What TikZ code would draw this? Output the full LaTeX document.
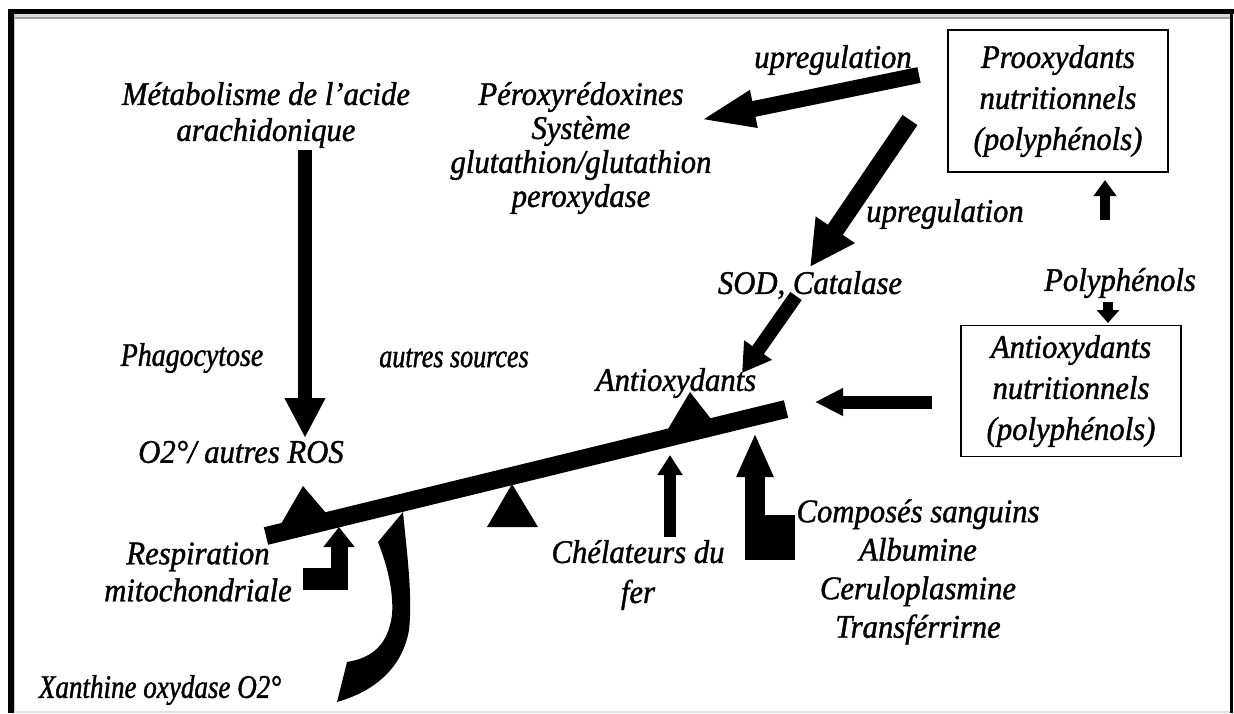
\documentclass[tikz,border=0pt]{standalone}
\usepackage{fontspec}
\setmainfont{Liberation Serif}[ItalicFeatures={FakeBold=1.2,FakeStretch=0.93}]
\newfontfamily\condphago{Liberation Serif}[ItalicFeatures={FakeBold=1.2,FakeStretch=0.845}]
\newfontfamily\condautres{Liberation Serif}[ItalicFeatures={FakeBold=1.2,FakeStretch=0.79}]
\newfontfamily\condxan{Liberation Serif}[ItalicFeatures={FakeBold=1.2,FakeStretch=0.82}]
\usetikzlibrary{arrows.meta}
\begin{document}
\begin{tikzpicture}[x=1pt,y=-1pt,
  lbl/.style={font=\fontsize{33}{35}\selectfont\itshape, align=center, inner sep=0pt},
  boxnode/.style={draw, line width=1.8pt, minimum width=220pt, minimum height=142pt, align=center, font=\fontsize{33}{41}\selectfont\itshape, inner sep=0pt},
  fatarrow/.style n args={3}{line width=#1pt, -{Triangle[length=#2pt 0 0,width=#3pt 0 0]}}
]
\useasboundingbox (0,0) rectangle (1234,713);
% frame
\fill (8,9) rectangle (1234,13.5);
\fill (8,9) rectangle (13.5,713);
\fill (1230,13) rectangle (1233,713);
\fill[gray!30] (13.5,13.5) rectangle (1230,16.5);
\fill[gray!75] (13.5,16.5) rectangle (1230,18.5);
\fill[gray!50] (13.5,13.5) rectangle (15,713);
\fill[gray!25] (13.5,710.5) rectangle (1230,713);

% text nodes
\node[lbl, font=\fontsize{33}{36}\selectfont\itshape] (meta) at (266,115) {Métabolisme de l’acide\\arachidonique};
\node[lbl, font=\fontsize{33}{34}\selectfont\itshape] (perox) at (581,148) {Péroxyrédoxines\\Système\\glutathion/glutathion\\peroxydase};
\node[lbl] (up1) at (833,60) {upregulation};
\node[boxnode] (pro) at (1058,101) {Prooxydants\\nutritionnels\\(polyphénols)};
\node[boxnode, minimum height=131pt] (anti) at (1071,391) {Antioxydants\\nutritionnels\\(polyphénols)};
\node[lbl] (up2) at (945,214) {upregulation};
\node[lbl] (poly) at (1120,283) {Polyphénols};
\node[lbl] (sod) at (810,285) {SOD, Catalase};
\node[lbl, font=\fontsize{33}{35}\condphago\itshape] (phago) at (192,358) {Phagocytose};
\node[lbl, font=\fontsize{33}{35}\condautres\itshape] (autres) at (454,358) {autres sources};
\node[lbl] (antiox) at (676,383) {Antioxydants};
\node[lbl] (ros) at (241,452) {O2°/ autres ROS};
\node[lbl, font=\fontsize{33}{37}\selectfont\itshape] (resp) at (198,572) {Respiration\\mitochondriale};
\node[lbl, font=\fontsize{33}{40}\selectfont\itshape] (chel) at (638,575) {Chélateurs du\\fer};
\node[lbl, font=\fontsize{33}{38.5}\selectfont\itshape] (comp) at (918,572) {Composés sanguins\\Albumine\\Ceruloplasmine\\Transférrirne};
\node[lbl, font=\fontsize{33}{35}\condxan\itshape] (xan) at (160,690) {Xanthine oxydase O2°};

% coordinates
\coordinate (beamL) at (266,536);
\coordinate (beamR) at (786,409);
\coordinate (a1s) at (305,150);
\coordinate (a1e) at (305,438);
\coordinate (u1s) at (919,75);
\coordinate (u1e) at (700,120);
\coordinate (u2s) at (910,120);
\coordinate (u2e) at (810,267);
\coordinate (s3s) at (796,296);
\coordinate (s3e) at (742,373);
\coordinate (b4s) at (932,402);
\coordinate (b4e) at (815,402);
\coordinate (chs) at (670,537);
\coordinate (che) at (670,455);
\coordinate (cos) at (755,560);
\coordinate (coe) at (755,433);
\coordinate (rss) at (339,590);
\coordinate (rse) at (339,527);
\coordinate (pus) at (1105,220);
\coordinate (pue) at (1105,180);
\coordinate (pds) at (1108,302);
\coordinate (pde) at (1108,323);

% beam
\draw[line width=18pt] (beamL) -- (beamR);
% triangles
\fill (303,486) -- (281,524) -- (326,513) -- cycle;
\fill (512,484) -- (487,527) -- (538,527) -- cycle;
\fill (690,392) -- (668,429) -- (711,419) -- cycle;

% arrows
\draw[fatarrow={14}{40}{38}] (a1s) -- (a1e);
\draw[fatarrow={16}{55}{34}] (u1s) -- (u1e);
\draw[fatarrow={18}{45}{44}] (u2s) -- (u2e);
\draw[fatarrow={14}{28}{32}] (s3s) -- (s3e);
\draw[fatarrow={13}{28}{26}] (b4s) -- (b4e);
\draw[fatarrow={12}{20}{24}] (chs) -- (che);
\draw[fatarrow={20}{44}{34}] (cos) -- (coe);
\fill (745,515) rectangle (795,560);
\draw[fatarrow={17}{20}{30}] (rss) -- (rse);
\fill (303,568) rectangle (347.5,590);
\draw[fatarrow={10}{16}{22}] (pus) -- (pue);
\draw[fatarrow={10}{13}{22}] (pds) -- (pde);

% curved arrow (xanthine)
\fill (337,702) .. controls (372,692) and (402,670) .. (409,630)
  .. controls (413,595) and (406,545) .. (403,512)
  -- (378,542)
  .. controls (386,562) and (394,590) .. (392,615)
  .. controls (388,645) and (372,658) .. (347,662) -- cycle;
\end{tikzpicture}
\end{document}
